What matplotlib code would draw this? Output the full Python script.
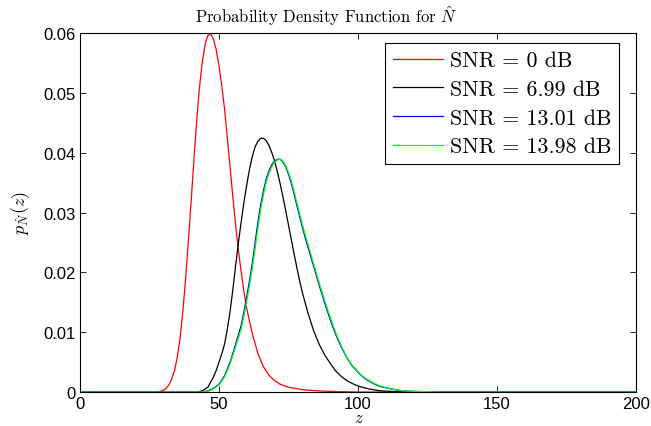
import matplotlib
matplotlib.use("Agg")
import matplotlib.pyplot as plt

plt.rcParams['font.family'] = ['Liberation Sans', 'DejaVu Sans']
plt.rcParams['mathtext.fontset'] = 'cm'

# values
z_red = [0, 28, 30, 31, 32, 33, 34, 35, 36, 37, 38, 39, 40, 41, 42, 43, 44, 45,
         46, 47, 48, 49, 50, 51, 52, 53, 54, 55, 56, 57, 58, 59, 60, 62, 64, 66,
         68, 70, 72, 75, 80, 85, 90, 100, 200]
p_red = [0, 0.0000, 0.0003, 0.0006, 0.0012, 0.0022, 0.0036, 0.0058, 0.0090,
         0.0135, 0.0190, 0.0253, 0.0320, 0.0390, 0.0455, 0.0510, 0.0552, 0.0581,
         0.0596, 0.0598, 0.0590, 0.0572, 0.0545, 0.0512, 0.0473, 0.0425, 0.0375,
         0.0325, 0.0278, 0.0236, 0.0200, 0.0167, 0.0139, 0.0097, 0.0064, 0.0042,
         0.0028, 0.0019, 0.0013, 0.0008, 0.0004, 0.0002, 0.0001, 0.0000, 0]

z_black = [0, 42, 44, 46, 48, 49, 50, 51, 52, 53, 54, 55, 56, 57, 58, 59, 60, 61,
           62, 63, 64, 65, 66, 67, 68, 69, 70, 71, 72, 73, 74, 75, 76, 77, 78, 79,
           80, 82, 84, 86, 88, 90, 92, 94, 96, 98, 100, 104, 108, 112, 120, 200]
p_black = [0, 0.0000, 0.0002, 0.0008, 0.0025, 0.0036, 0.0050, 0.0064, 0.0080,
           0.0105, 0.0135, 0.0172, 0.0212, 0.0250, 0.0285, 0.0318, 0.0347, 0.0373,
           0.0394, 0.0410, 0.0419, 0.0424, 0.0424, 0.0420, 0.0412, 0.0400, 0.0386,
           0.0368, 0.0348, 0.0326, 0.0303, 0.0279, 0.0255, 0.0231, 0.0208, 0.0186,
           0.0166, 0.0132, 0.0103, 0.0080, 0.0062, 0.0048, 0.0035, 0.0026, 0.0019,
           0.0014, 0.0010, 0.0005, 0.0002, 0.0001, 0.0000, 0]

z_bg = [0, 44, 46, 48, 50, 52, 54, 56, 58, 59, 60, 61, 62, 63, 64, 65, 66, 67, 68,
        69, 70, 71, 72, 73, 74, 75, 76, 77, 78, 79, 80, 81, 82, 84, 86, 88, 90, 92,
        94, 96, 98, 100, 102, 104, 106, 108, 112, 116, 120, 130, 200]
p_blue = [0, 0.0000, 0.0002, 0.0006, 0.0013, 0.0027, 0.0050, 0.0080, 0.0112,
          0.0135, 0.0160, 0.0187, 0.0216, 0.0250, 0.0284, 0.0313, 0.0337, 0.0356,
          0.0370, 0.0380, 0.0386, 0.0389, 0.0389, 0.0384, 0.0376, 0.0364, 0.0349,
          0.0331, 0.0312, 0.0293, 0.0275, 0.0258, 0.0242, 0.0211, 0.0179, 0.0149,
          0.0121, 0.0096, 0.0075, 0.0057, 0.0043, 0.0033, 0.0024, 0.0018, 0.0013,
          0.0009, 0.0005, 0.0002, 0.0001, 0.0000, 0]
p_green = [0, 0.0000, 0.0001, 0.0005, 0.0012, 0.0025, 0.0047, 0.0076, 0.0105,
           0.0128, 0.0152, 0.0179, 0.0207, 0.0240, 0.0274, 0.0305, 0.0330, 0.0351,
           0.0366, 0.0377, 0.0384, 0.0388, 0.0389, 0.0386, 0.0378, 0.0367, 0.0353,
           0.0336, 0.0317, 0.0298, 0.0280, 0.0263, 0.0247, 0.0215, 0.0183, 0.0153,
           0.0125, 0.0099, 0.0077, 0.0058, 0.0044, 0.0034, 0.0025, 0.0019, 0.0014,
           0.0010, 0.0005, 0.0002, 0.0001, 0.0000, 0]

labels = ['SNR = 0 dB', 'SNR = 6.99 dB', 'SNR = 13.01 dB', 'SNR = 13.98 dB']

fig = plt.figure(figsize=(6.51, 4.27), dpi=100)
ax = fig.add_axes([80 / 651, 1 - 393 / 427, 556 / 651, 359 / 427])

lw = 0.9
ax.plot(z_red, p_red, color='#ff0000', lw=lw, label=labels[0])
ax.plot(z_black, p_black, color='black', lw=lw, label=labels[1])
ax.plot(z_bg, p_blue, color='#0000ff', lw=lw, label=labels[2])
ax.plot(z_bg, p_green, color='#00ff00', lw=lw, label=labels[3])

ax.set_xlim(0, 200)
ax.set_ylim(0, 0.06)
ax.set_xticks([0, 50, 100, 150, 200])
ax.set_yticks([0, 0.01, 0.02, 0.03, 0.04, 0.05, 0.06])
ax.set_yticklabels(['0', '0.01', '0.02', '0.03', '0.04', '0.05', '0.06'])
ax.tick_params(direction='in', top=True, right=True, length=4, width=0.6,
               labelsize=12, pad=3)
for s in ax.spines.values():
    s.set_linewidth(0.8)

ax.set_title(r'Probability Density Function for $\hat{N}$', family='cmr10',
             fontsize=12, pad=8, x=0.442)
ax.set_xlabel('z', family='cmmi10', fontsize=12, labelpad=-1.5)
ax.set_ylabel(r'$p_{\hat{N}}(z)$', fontsize=13, labelpad=8)

leg = ax.legend(loc='upper right', bbox_to_anchor=(0.969, 0.972),
                prop={'family': 'cmr10', 'size': 15.8}, fancybox=False,
                framealpha=1, edgecolor='black', handlelength=2.3,
                borderpad=0.35, labelspacing=0.42, handletextpad=0.3,
                borderaxespad=0)
leg.get_frame().set_linewidth(0.8)

fig.savefig('out.png', dpi=100)
